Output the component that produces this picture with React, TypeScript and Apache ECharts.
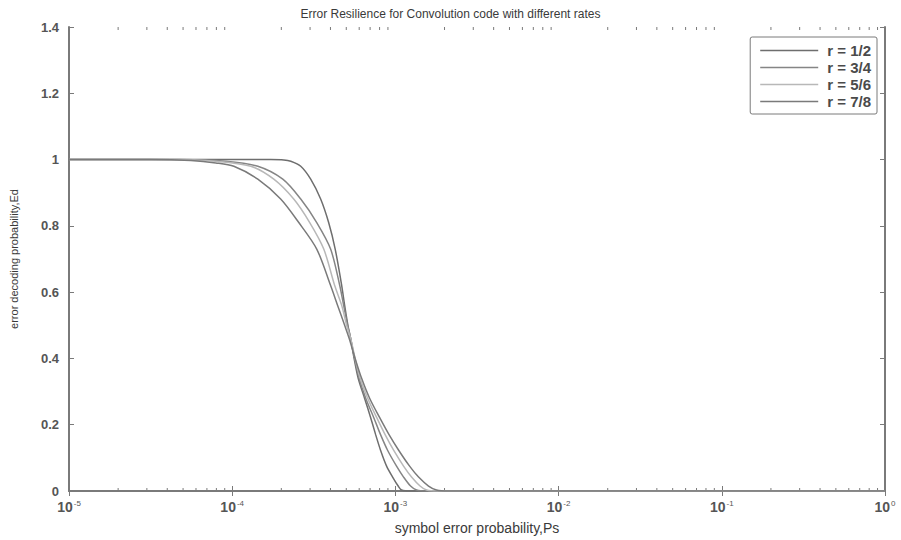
import React, { useEffect, useRef } from "react";
import * as echarts from "echarts";

// log10(Ps) and Ed readings for each code rate
const r12Log = [-5, -3.764, -3.684, -3.641, -3.58, -3.519, -3.458, -3.409, -3.369, -3.329, -3.311, -3.291, -3.274, -3.253, -3.228, -3.189, -3.152, -3.121, -3.091, -3.054, -3.017, -2.983, -2.962, -2.907, -2, -1, 0];
const r12Ed = [1, 1, 0.999, 0.995, 0.98, 0.941, 0.881, 0.81, 0.73, 0.62, 0.56, 0.5, 0.46, 0.4, 0.34, 0.28, 0.222, 0.17, 0.123, 0.075, 0.042, 0.015, 0.003, 0, 0, 0, 0];

const r34Log = [-5, -4.315, -4.039, -3.843, -3.69, -3.58, -3.482, -3.397, -3.341, -3.317, -3.293, -3.274, -3.25, -3.222, -3.182, -3.133, -3.091, -3.048, -2.993, -2.95, -2.907, -2.87, -2.809, -2, -1, 0];
const r34Ed = [1, 1, 0.995, 0.98, 0.941, 0.881, 0.81, 0.73, 0.62, 0.56, 0.5, 0.46, 0.4, 0.34, 0.28, 0.222, 0.17, 0.123, 0.075, 0.042, 0.015, 0.003, 0, 0, 0, 0];

const r56Log = [-5, -4.376, -4.1, -3.886, -3.745, -3.623, -3.525, -3.439, -3.372, -3.329, -3.299, -3.274, -3.247, -3.216, -3.17, -3.115, -3.063, -3.011, -2.95, -2.901, -2.849, -2.809, -2.742, -2, -1, 0];
const r56Ed = [1, 1, 0.995, 0.98, 0.941, 0.881, 0.81, 0.73, 0.62, 0.56, 0.5, 0.46, 0.4, 0.34, 0.28, 0.222, 0.17, 0.123, 0.075, 0.042, 0.015, 0.003, 0, 0, 0, 0];

const r78Log = [-5, -4.498, -4.253, -4.1, -3.99, -3.843, -3.703, -3.592, -3.482, -3.397, -3.354, -3.311, -3.283, -3.247, -3.207, -3.158, -3.097, -3.039, -2.98, -2.913, -2.858, -2.797, -2.748, -2.674, -2, -1, 0];
const r78Ed = [1, 1, 0.997, 0.99, 0.98, 0.941, 0.881, 0.81, 0.73, 0.62, 0.56, 0.5, 0.46, 0.4, 0.34, 0.28, 0.222, 0.17, 0.123, 0.075, 0.042, 0.015, 0.003, 0, 0, 0, 0];

const seriesNames = ["r = 1/2", "r = 3/4", "r = 5/6", "r = 7/8"];
const seriesColors = ["#6e6e6e", "#858585", "#b8b8b8", "#7a7a7a"];
const yTicks = [0, 0.2, 0.4, 0.6, 0.8, 1, 1.2, 1.4];
const decadeExps = [-5, -4, -3, -2, -1];
const minorMultipliers = [2, 3, 4, 5, 6, 7, 8, 9];

const toPairs = (lg: number[], ed: number[]) => lg.map((l, i) => [Math.pow(10, l), ed[i]]);

export default function App() {
  const ref = useRef<HTMLDivElement>(null);
  useEffect(() => {
    if (!ref.current) return;
    const chart = echarts.init(ref.current, undefined, { renderer: "svg" });
    const curves = [toPairs(r12Log, r12Ed), toPairs(r34Log, r34Ed), toPairs(r56Log, r56Ed), toPairs(r78Log, r78Ed)];
    const minorVals: number[] = [];
    decadeExps.forEach((e) => minorMultipliers.forEach((m) => minorVals.push(m * Math.pow(10, e))));
    const font = "'Liberation Sans', Arial, sans-serif";
    const axisColor = "#7a7a7a";
    const textColor = "#3a3a3a";
    const option: any = {
      animation: false,
      backgroundColor: "#ffffff",
      title: {
        text: "Error Resilience for Convolution code with different rates",
        left: "center",
        top: 3,
        textStyle: { fontFamily: font, fontSize: 12, fontWeight: "normal", color: textColor },
      },
      legend: {
        orient: "vertical",
        right: 24,
        top: 37,
        data: seriesNames,
        icon: "rect",
        itemWidth: 58,
        itemHeight: 1.5,
        itemGap: 2,
        padding: [6, 6, 5, 10],
        borderColor: "#7a7a7a",
        borderWidth: 1,
        borderRadius: 2,
        textStyle: { fontFamily: font, fontSize: 15, fontWeight: "bold", color: "#4a4a4a", padding: [0, 0, 0, 4] },
      },
      grid: { left: 68, right: 16, top: 27, bottom: 46 },
      xAxis: [
        {
          type: "log",
          logBase: 10,
          min: 1e-5,
          max: 1,
          name: "symbol error probability,Ps",
          nameLocation: "middle",
          nameGap: 30,
          nameTextStyle: { fontFamily: font, fontSize: 14, color: textColor },
          axisLine: { lineStyle: { color: axisColor, width: 2 } },
          axisTick: { inside: true, length: 5, lineStyle: { color: axisColor } },
          splitLine: { show: false },
          axisLabel: {
            margin: 8,
            formatter: (v: number) => `{b|10}{s|${Math.round(Math.log10(v))}}`,
            rich: {
              b: { fontFamily: font, fontSize: 14, fontWeight: "bold", color: "#555" },
              s: { fontFamily: font, fontSize: 8, color: "#555", verticalAlign: "top", padding: [0, 0, 8, 1] },
            },
          },
        },
        {
          type: "log",
          logBase: 10,
          min: 1e-5,
          max: 1,
          position: "top",
          axisLine: { lineStyle: { color: axisColor, width: 1 } },
          axisTick: { inside: true, length: 5, lineStyle: { color: axisColor } },
          axisLabel: { show: false },
          splitLine: { show: false },
        },
      ],
      yAxis: [
        {
          type: "value",
          min: 0,
          max: 1.4,
          interval: 0.2,
          name: "error decoding probability,Ed",
          nameLocation: "middle",
          nameGap: 50,
          nameTextStyle: { fontFamily: font, fontSize: 11, color: textColor },
          axisLine: { show: true, lineStyle: { color: axisColor, width: 2 } },
          axisTick: { show: true, inside: true, length: 5, lineStyle: { color: axisColor } },
          splitLine: { show: false },
          axisLabel: {
            fontFamily: font,
            fontSize: 13,
            fontWeight: "bold",
            color: "#555",
            margin: 10,
            customValues: yTicks,
          },
        },
        {
          type: "value",
          min: 0,
          max: 1.4,
          interval: 0.2,
          position: "right",
          axisLine: { show: true, lineStyle: { color: axisColor, width: 2 } },
          axisTick: { show: true, inside: true, length: 5, lineStyle: { color: axisColor } },
          axisLabel: { show: false },
          splitLine: { show: false },
        },
      ],
      series: [
        ...curves.map((d, i) => ({
          name: seriesNames[i],
          type: "line",
          data: d,
          showSymbol: false,
          symbol: "none",
          smooth: 0.3,
          lineStyle: { color: seriesColors[i], width: 1.5 },
          itemStyle: { color: seriesColors[i] },
          z: 3,
        })),
        {
          type: "custom",
          name: "minorTicks",
          silent: true,
          data: minorVals.map((v) => [v]),
          renderItem: (params: any, api: any) => {
            const v = api.value(0);
            const b = api.coord([v, 0]);
            const t = api.coord([v, 1.4]);
            const st = { stroke: axisColor, lineWidth: 1 };
            return {
              type: "group",
              children: [
                { type: "line", shape: { x1: b[0], y1: b[1], x2: b[0], y2: b[1] - 3 }, style: st },
                { type: "line", shape: { x1: t[0], y1: t[1], x2: t[0], y2: t[1] + 3 }, style: st },
              ],
            };
          },
          z: 2,
        },
      ],
    };
    chart.setOption(option);
    return () => chart.dispose();
  }, []);
  return <div ref={ref} style={{ position: "fixed", left: 0, top: 0, width: 901, height: 540 }} />;
}
